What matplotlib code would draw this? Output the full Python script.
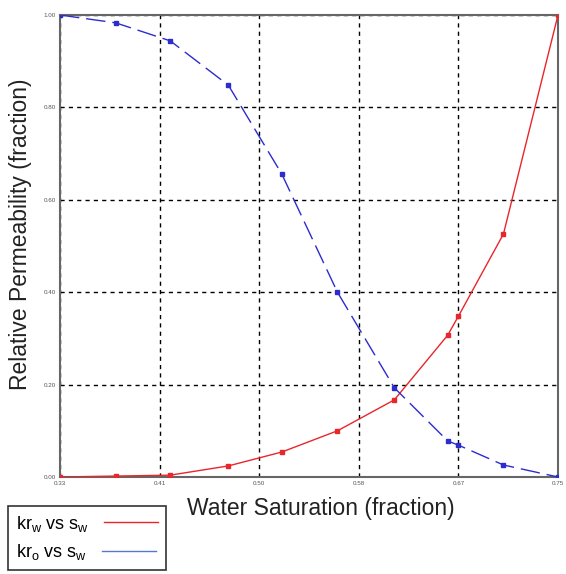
import matplotlib
matplotlib.use("Agg")
import matplotlib.pyplot as plt
import numpy as np

plt.rcParams['font.family'] = ['Liberation Sans', 'DejaVu Sans']
plt.rcParams['mathtext.fontset'] = 'custom'
plt.rcParams['mathtext.rm'] = 'Liberation Sans'

sw = [0.33, 0.377, 0.423, 0.472, 0.517, 0.564, 0.612, 0.657, 0.666, 0.704, 0.75]
krw = [0.0, 0.002, 0.004, 0.024, 0.054, 0.10, 0.167, 0.307, 0.348, 0.526, 1.0]
kro = [1.0, 0.983, 0.944, 0.848, 0.656, 0.40, 0.193, 0.078, 0.069, 0.026, 0.0]

xticks = [0.33, 0.414, 0.498, 0.582, 0.666, 0.75]
xticklabels = ['0.33', '0.41', '0.50', '0.58', '0.67', '0.75']
yticks = [0.0, 0.2, 0.4, 0.6, 0.8, 1.0]
yticklabels = ['0.00', '0.20', '0.40', '0.60', '0.80', '1.00']

fig = plt.figure(figsize=(5.66, 5.74), dpi=100)
ax = fig.add_axes([60/566, 1-477/574, 498/566, 462/574])

red = '#e8262b'
blue = '#2c2ccf'
ax.plot(sw, krw, color=red, lw=1.0, marker='s', ms=3.5, mfc=red, mec=red, zorder=3)
ax.plot(sw, kro, color=blue, lw=1.0, ls=(0, (14, 5)), marker='s', ms=3.5, mfc=blue, mec=blue, zorder=3)

ax.set_xlim(0.33, 0.75)
ax.set_ylim(0.0, 1.0)
ax.set_xticks(xticks)
ax.set_xticklabels(xticklabels)
ax.set_yticks(yticks)
ax.set_yticklabels(yticklabels)
ax.tick_params(labelsize=4.5, labelcolor='#555555', length=0, pad=3)
ax.grid(True, color='black', ls=(0, (3, 3)), lw=1.0)
for s in ax.spines.values():
    s.set_color('#666666')
    s.set_linewidth(1.5)

ax.set_xlabel('Water Saturation (fraction)', fontsize=16.5, color='#222222')
ax.set_ylabel('Relative Permeability (fraction)', fontsize=16.5, color='#222222')
ax.xaxis.set_label_coords(0.524, -0.043)
ax.yaxis.set_label_coords(-0.056, 0.526)

from matplotlib.lines import Line2D
h1 = Line2D([], [], color=red, lw=1.0)
h2 = Line2D([], [], color='#5577cc', lw=1.0)
leg = fig.legend([h1, h2], [r'kr$_\mathrm{w}$ vs s$_\mathrm{w}$', r'kr$_\mathrm{o}$ vs s$_\mathrm{w}$'],
                 loc='lower left', bbox_to_anchor=(8/566, 4/574), markerfirst=False,
                 fontsize=13, frameon=True, fancybox=False, edgecolor='black',
                 handlelength=3.0, borderpad=0.45, labelspacing=0.45, handletextpad=0.8,
                 borderaxespad=0)
leg.get_frame().set_linewidth(1.2)
for vp in leg._legend_handle_box.get_children():
    vp.align = 'left'

fig.savefig('out.png', dpi=100)
